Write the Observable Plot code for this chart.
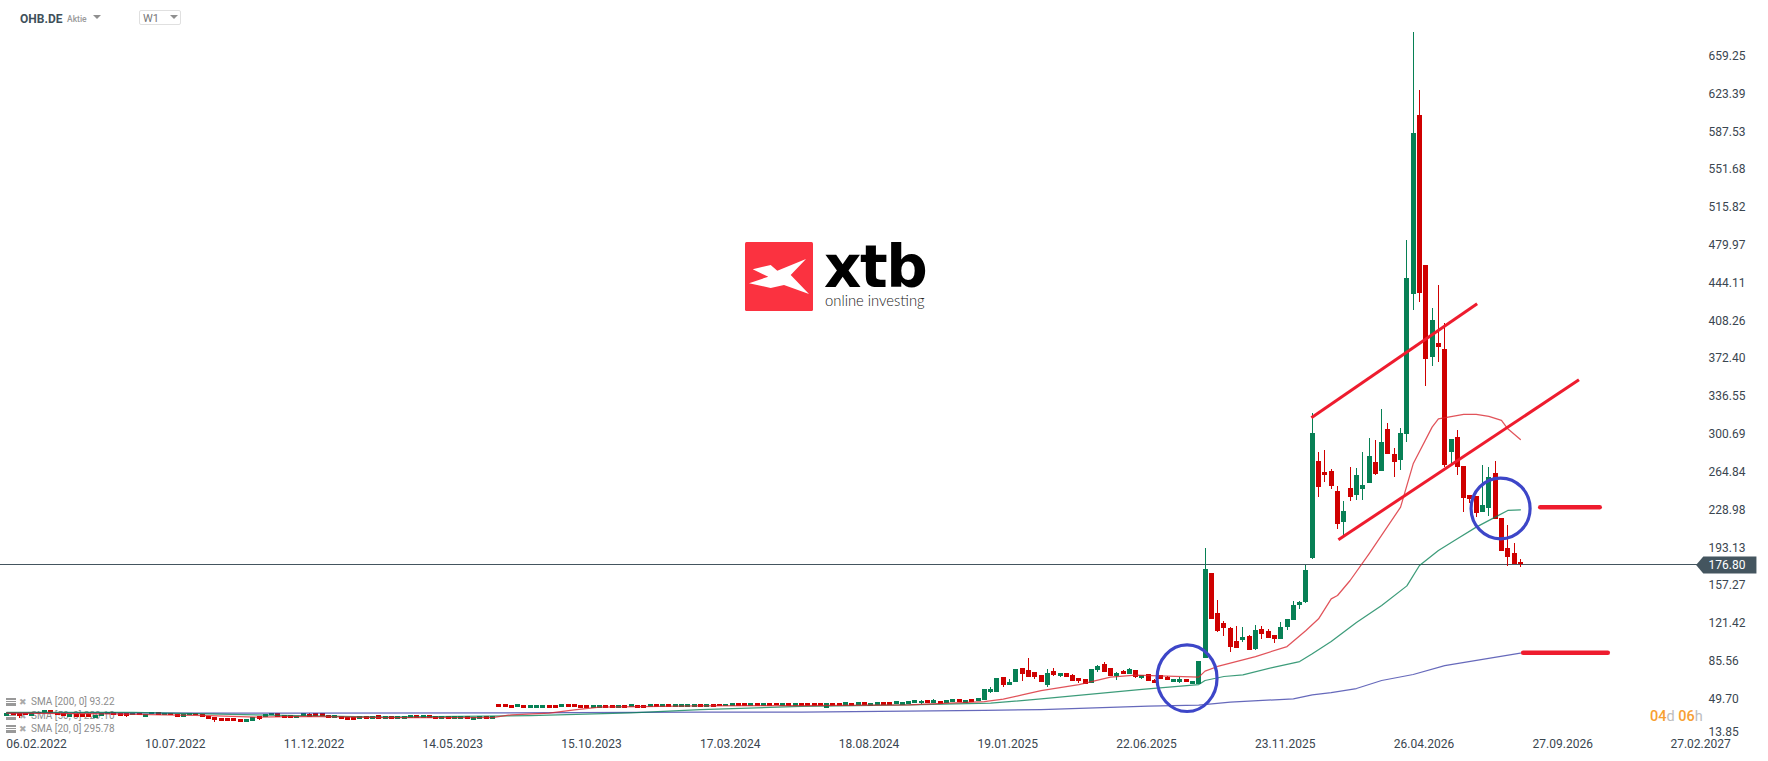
<!DOCTYPE html>
<html lang="de">
<head>
<meta charset="utf-8">
<script src="https://cdn.jsdelivr.net/npm/d3@7"></script>
<script src="https://cdn.jsdelivr.net/npm/@observablehq/plot@0.6"></script>
<style>
html,body{margin:0;padding:0;background:#fff;overflow:hidden}
#wrap{position:relative;width:1768px;height:761px;font-family:Roboto,sans-serif}
#wrap>svg{position:absolute;left:0;top:0;display:block}
.o{position:absolute;white-space:nowrap}
.sma{color:#8d8d8d;font-size:10px;left:31px;line-height:12px}
.ic{position:absolute;left:6px;width:10px;height:8px;background:linear-gradient(#999 0 2px,#fff 2px 3px,#999 3px 4px,#fff 4px 5px,#999 5px 8px)}
.ix{position:absolute;left:19px;font-size:9px;color:#aaa;line-height:10px}
.tri{position:absolute;width:0;height:0;border-left:4.5px solid transparent;border-right:4.5px solid transparent;border-top:4.5px solid #8f8f8f}
</style>
</head>
<body>
<div id="wrap">
  <div class="o" style="left:20px;top:12px;font-size:12px;font-weight:700;color:#40505a">OHB.DE</div>
  <div class="o" style="left:67px;top:14px;font-size:8.5px;font-weight:500;color:#9a9a9a">Aktie</div>
  <div class="tri" style="left:93px;top:15px"></div>
  <div class="o" style="left:139px;top:10px;width:42px;height:15px;border:1px solid #e0e0e0;border-radius:2px;box-sizing:border-box"></div>
  <div class="o" style="left:143px;top:12px;font-size:11px;color:#777">W1</div>
  <div class="tri" style="left:170px;top:15px"></div>

  <svg class="o" style="left:745px;top:242px" width="68" height="69" viewBox="0 0 68 69"><rect width="68" height="69" rx="1.5" fill="#fb3240"/><polygon fill="#fff" points="7.7,27.3 25.7,23 32.3,28.7 61,17 45.7,33 64,52 39,43 25.7,46 4,41.3 23.3,34.7"/></svg>
  <div class="o" style="left:824px;top:245px;font-family:'DejaVu Sans',sans-serif;font-size:58px;font-weight:700;letter-spacing:-1.5px;line-height:44px;color:#000">xtb</div>
  <div class="o" style="left:825px;top:291px;font-family:Lato,sans-serif;font-size:14.8px;font-weight:300;color:#222;line-height:18px">online investing</div>

  <div class="ic" style="top:698px"></div><div class="ix" style="top:697px">✖</div><div class="o sma" style="top:696px">SMA [200, 0] 93.22</div>
  <div class="ic" style="top:712px"></div><div class="ix" style="top:711px">✖</div><div class="o sma" style="top:710px">SMA [50, 0] 229.10</div>
  <div class="ic" style="top:725px"></div><div class="ix" style="top:724px">✖</div><div class="o sma" style="top:723px">SMA [20, 0] 295.78</div>

  <div class="o" style="left:1650px;top:708px;font-size:14.5px;font-weight:500;color:#f7a032">04<span style="color:#bdbdbd;font-weight:400">d</span> 06<span style="color:#bdbdbd;font-weight:400">h</span></div>
</div>
<script>
const opens = [
33.5,36.3,36,36,33.5,35.7,36,38.6,36.3,35.7,
32.5,35,34.8,34.8,31.6,33.5,35,37.3,35.7,35.7,
33.8,35.7,32.5,35,37.3,33.8,35.7,34.8,32.5,33.8,
35.7,35,33.5,31.9,31.3,31.3,31.3,30,27.8,28.8,
32.9,32,34.1,35.7,33.8,33.8,31,32.9,35.1,36,
36,34.1,31.3,33.5,32.2,32.2,30.3,33.5,30.3,33.8,
30.3,32.9,30.3,30.3,31.3,33.8,31.3,33.8,32.9,30.3,
32.9,30.3,30.3,32.9,29.4,30.3,32.9,30.3,44.6,44.6,
43.6,42,43.6,40.8,40.8,40.8,43.6,43.6,41.7,44.6,
44.6,43.6,43.6,40.8,40.8,43.6,43.6,40.8,43.6,42,
43.6,43.6,42,44.6,42,44.6,42,42,42,42,
44.6,42,44.6,44.9,42.3,42.6,45.2,45.5,43,45.5,
43,45.5,45.8,43,45.5,43,45.5,45.5,45.5,45.5,
40.8,45.5,45.5,43,45.5,43.3,46.4,43,43.3,46.4,
46.4,44.2,43.3,44.2,45.2,45.2,48.4,45.2,47.4,45.5,
46.4,49.3,45.5,49.3,47.4,48.4,55.9,55.9,70.2,62.6,
65.4,78.7,76.8,74.9,
72,62.6,75.8,71.1,73.6,72,68.9,67.9,64.8,76.8,
82.5,78.7,71.1,75.8,73,76.8,69.2,73,67.3,71.7,
70.1,65.7,65.4,68.3,63.5,63.5,88.2,168.7,130.8,121.3,
116.6,104.3,105.2,109.3,96.7,115.6,113.8,110,106.5,117.5,
124.2,138.4,141.2,
183.3,275,264.5,265.5,246.5,217.1,249.3,242.7,248.4,254,
274,265.5,305.3,281.6,275.9,300.5,433.5,602.9,460.7,373.8,
386.8,381.1,283.5,297.7,270.2,242.7,241.8,226.6,230.4,263.5,
220.9,192.4,187.7,179.2];
const closes = [
35.7,33.8,33.2,34.4,35.7,37,38.6,36,34.4,33.5,
35,32.2,32.5,31.9,34.1,35.7,37.3,34.1,33.5,33.5,
35.7,33.8,34.8,37.3,34.1,35.7,33.8,32.5,34.8,35.7,
33.8,32.5,30.3,29.4,28.8,28.8,28.8,27.5,30,31.9,
30.7,35,36.3,32.5,31.6,31.6,33.5,36,32.6,33.2,
33.5,31.3,34.1,30.3,29.4,29.4,32.9,30.3,32.9,30.7,
32.9,30.3,32.9,32.9,33.8,31.3,33.8,31.3,30.3,32.9,
30.3,32.9,32.9,30.3,32.2,32.9,30.3,32.9,41.7,42,
40.8,44.6,40.8,43.6,43.6,43.6,40.8,40.8,44.6,41.7,
41.7,40.8,40.8,43.6,43.6,40.8,40.8,43.6,40.8,44.6,
40.8,40.8,44.6,42,44.6,42,44.6,44.6,44.6,44.6,
42,44.6,42,42.3,45,45.2,42.6,43,45.5,43,
45.5,43,43.3,45.5,43,45.5,43,43,43,43,
45.5,43,43,46.4,43,46.4,43.3,45.5,46.4,43.3,
43.3,47.4,46.4,47.4,48.4,47.4,45.2,48.4,44.6,48.4,
49.3,46.4,48.4,46.4,50.2,58.8,58.8,69.2,62.9,65.4,
77.7,73,70.2,70.2,
65.7,73.6,72,73.6,70.5,66.7,66,63.8,77.7,80.6,
75.2,71.1,73.6,73,77.7,70.5,72,66.7,64.8,68.6,
67.3,68.3,68.3,65.7,66.4,85.3,172.5,125.4,113.8,116.6,
98.6,97.6,108.1,95.7,114.7,110.9,107.1,106.2,117.5,125.1,
138.4,141.2,171.6,
301.5,250.3,261.7,251.2,215.2,227.5,240.8,261.7,252.2,279.7,
262.6,292.9,281.6,274,301.5,448.4,585.8,434.4,371.9,408.5,
383,271.1,295.8,269.2,239.9,238.9,225.6,233.2,259.8,220,
189.6,183.9,177.3,176.8];
// upper and lower wicks, by candle number, where they go beyond the body
const wickHighs = {48:36.3,145:48.4,147:49.6,156:60.4,159:68,162:88.2,165:77.4,166:78.7,169:73,173:81.5,174:84.4,176:74.9,177:76.8,178:78.7,182:68.3,184:71.4,186:70.1,190:192.4,192:143.1,193:123.2,194:117.5,195:118.5,196:117.5,197:110,198:119.4,199:118.5,200:115.6,202:122.3,204:142.2,205:142.2,206:176.3,207:320.1,208:283.5,209:285.4,210:267.4,211:251.2,212:237,213:269.2,214:268.3,215:283.5,216:296.7,217:294.8,218:324.2,219:311,220:287.3,221:306.2,222:484.4,223:681.6,224:626.6,226:419.9,227:441.7,228:405.4,230:304.3,234:271.1,235:269.2,236:274.9,238:214.2,239:197.2,240:182};
const wickLows = {2:31,19:32.5,33:27.5,40:29.4,145:44.2,156:55,158:60.7,161:66.4,163:68.3,165:61,166:71.1,167:70.1,170:64.8,173:75.2,176:67.6,179:69.5,180:68.6,186:64.5,192:113.1,193:109.3,194:94.2,196:103.3,198:96.1,199:106.2,201:102.4,203:114.7,205:134.6,206:140,207:181.7,208:240.8,209:255,210:248.4,211:210.5,212:203.8,213:237,214:238,215:238,217:261.7,220:259.8,221:266.4,222:293.3,223:418.3,224:425.9,225:346,226:365.3,227:368.5,228:269.2,229:270.2,230:261.7,231:226.6,232:235.1,233:222,235:222.8,238:175.4,240:174.4};

const sma20Weeks = [0,16,32,40,47,60,77,80,86,90,94,110,126,143,155,158,161,164,170,175,179,189,190,192,198,203,206,208,210,211,213,216,221,223,226,227,231,233,235,237,238,240];
const sma20 = [36.3,35.7,34.1,32.5,33.2,32.2,32.2,34.8,36.4,39.5,42,43.3,43.6,44.2,47.4,49.6,53.7,57.8,63.5,70.5,72.4,70.5,76.2,80.6,90,99.5,114.7,125.8,144.7,147.9,162.1,187.4,231.6,272.7,307.5,315.4,319.5,319.5,317.6,313.8,305.9,295.78];
const sma50Weeks = [0,20,46,60,83,99,110,126,143,156,164,180,189,190,193,196,201,205,207,210,214,218,222,224,227,230,233,236,238,240];
const sma50 = [37,37,34,32.6,34.1,36.7,39.8,42.7,44.2,45.8,49.9,58.8,63.5,67.3,71.1,72.7,80,85.3,92.6,104.3,122.3,138.4,157,176.3,190.6,201.6,212.7,222.2,228.5,229.1];
const sma200Weeks = [0,46,100,110,126,155,164,181,189,194,204,207,210,214,218,223,228,240];
const sma200 = [36.7,36.3,37,37.3,37.3,38.9,39.8,43,43.9,46.8,49.9,53.7,55.9,59.7,67.3,73,81.5,93.22];

const priceTicks = [659.25,623.39,587.53,551.68,515.82,479.97,444.11,408.26,372.40,336.55,300.69,264.84,228.98,193.13,157.27,121.42,85.56,49.70];
const lowestPrice = 13.85;
const lastPrice = 176.80;
const dateTicks = ["2022-02-06","2022-07-10","2022-12-11","2023-05-14","2023-10-15","2024-03-17","2024-08-18","2025-01-19","2025-06-22","2025-11-23","2026-04-26","2026-09-27","2027-02-27"];

const channelLines = [
  {x1:"2025-12-22",y1:316.3,x2:"2026-06-24",y2:424.4},
  {x1:"2026-01-21",y1:200.7,x2:"2026-10-15",y2:352.3}
];
const targetLines = [
  {x1:"2026-09-02",y1:231.6,x2:"2026-11-07",y2:231.6},
  {x1:"2026-08-14",y1:93.6,x2:"2026-11-16",y2:93.6}
];
const circles = [{x:"2025-08-06",y:69.5,r:30,k:1.11},{x:"2026-07-20",y:230.4,r:29.5,k:1.03}];
const priceTag = [["2027-02-22",176.8],["2027-03-02",184.9],["2027-04-30",184.9],["2027-04-30",168.7],["2027-03-02",168.7]];

const firstWeek = Date.UTC(2022,0,4);
const weekDate = i => new Date(firstWeek + i*7*864e5);
const d = s => new Date(s+"T00:00:00Z");
const up = "#078055", down = "#cf0000", trendRed = "#ee1c2e", circleBlue = "#3d46c8";
const candles = opens.map((o,i)=>({date:weekDate(i),o,c:closes[i],
  h:wickHighs[i] ?? Math.max(o,closes[i]), l:wickLows[i] ?? Math.min(o,closes[i]),
  col:closes[i]>=o?up:down}));
const smaLine = (weeks,vals,color) => Plot.line(weeks.map((w,k)=>({x:weekDate(w),y:vals[k]})),
  {x:"x",y:"y",stroke:color,strokeWidth:1.25,strokeOpacity:.78});
const ellipse = k => ({draw(ctx,size){
  const rx=Math.sqrt(size/Math.PI), ry=rx*k, m=0.5523;
  ctx.moveTo(rx,0);
  ctx.bezierCurveTo(rx,m*ry,m*rx,ry,0,ry);
  ctx.bezierCurveTo(-m*rx,ry,-rx,m*ry,-rx,0);
  ctx.bezierCurveTo(-rx,-m*ry,-m*rx,-ry,0,-ry);
  ctx.bezierCurveTo(m*rx,-ry,rx,-m*ry,rx,0);
  ctx.closePath();
}});

const chart = Plot.plot({
  width:1768,height:761,marginLeft:0,marginRight:60,marginTop:0,marginBottom:25,
  style:{background:"transparent",fontFamily:"Roboto, sans-serif",fontSize:"12px",color:"#3a4650"},
  x:{type:"utc",domain:[d("2022-02-06"),d("2027-02-28")],range:[36,1701]},
  y:{type:"linear",domain:[13.85,659.25],range:[736.4,55.5]},
  marks:[
    Plot.ruleY([lastPrice],{stroke:"#44555f",strokeWidth:1,shapeRendering:"crispEdges"}),
    Plot.ruleX(candles,{x:"date",y1:"l",y2:"h",stroke:"col",strokeWidth:1,shapeRendering:"crispEdges"}),
    Plot.ruleX(candles,{x:"date",y1:"o",y2:"c",stroke:"col",strokeWidth:5,shapeRendering:"crispEdges"}),
    smaLine(sma200Weeks,sma200,"#3b3fa8"),
    smaLine(sma50Weeks,sma50,"#078055"),
    smaLine(sma20Weeks,sma20,"#d8222c"),
    Plot.link(channelLines,{x1:r=>d(r.x1),x2:r=>d(r.x2),y1:"y1",y2:"y2",stroke:trendRed,strokeWidth:3}),
    Plot.link(targetLines,{x1:r=>d(r.x1),x2:r=>d(r.x2),y1:"y1",y2:"y2",stroke:trendRed,strokeWidth:4.5,strokeLinecap:"round"}),
    ...circles.map(c=>Plot.dot([c],{x:r=>d(r.x),y:"y",r:c.r,symbol:ellipse(c.k),stroke:circleBlue,strokeWidth:3.2,fill:"none"})),
    Plot.line(priceTag,{x:r=>d(r[0]),y:r=>r[1],fill:"#44555f",stroke:"none"}),
    Plot.text([lastPrice],{y:v=>v,frameAnchor:"right",textAnchor:"start",text:v=>v.toFixed(2),fill:"#fff"}),
    Plot.text([lowestPrice],{y:v=>v,frameAnchor:"right",textAnchor:"start",dy:-5,text:v=>v.toFixed(2),fill:"#3a4650"}),
    Plot.axisY({anchor:"right",ticks:priceTicks,tickSize:0,tickPadding:0,label:null,tickFormat:v=>v.toFixed(2)}),
    Plot.axisX({anchor:"bottom",ticks:dateTicks.map(d),tickSize:0,tickPadding:3,label:null,tickFormat:t=>d3.utcFormat("%d.%m.%Y")(t)})
  ]
});
document.getElementById("wrap").appendChild(chart);
</script>
</body>
</html>
